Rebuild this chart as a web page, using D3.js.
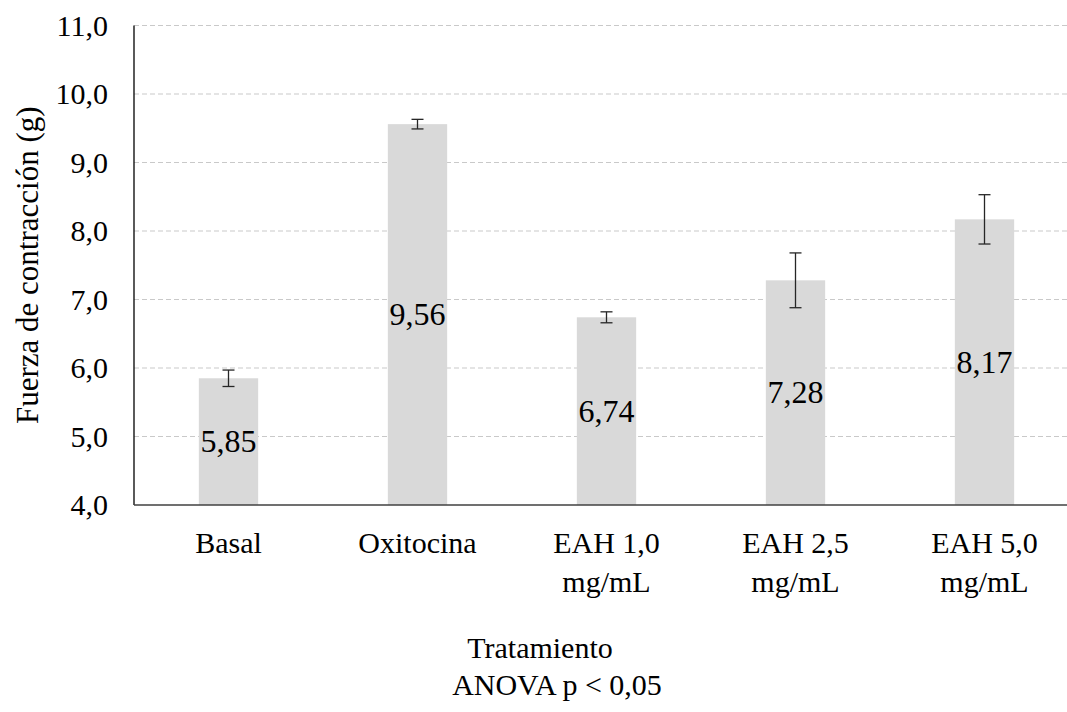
<!DOCTYPE html>
<html>
<head>
<meta charset="utf-8">
<script src="https://cdn.jsdelivr.net/npm/d3@7"></script>
</head>
<body style="margin:0">
<svg id="chart" width="1067" height="712"></svg>
<script>
const categories = [["Basal"], ["Oxitocina"], ["EAH 1,0", "mg/mL"], ["EAH 2,5", "mg/mL"], ["EAH 5,0", "mg/mL"]];
const values = [5.85, 9.56, 6.74, 7.28, 8.17];
const errors = [0.12, 0.07, 0.08, 0.40, 0.36];
const valueLabels = ["5,85", "9,56", "6,74", "7,28", "8,17"];
const yTicks = [4, 5, 6, 7, 8, 9, 10, 11];
const yTickLabels = ["4,0", "5,0", "6,0", "7,0", "8,0", "9,0", "10,0", "11,0"];
const yTitle = "Fuerza de contracción (g)";
const xTitle = "Tratamiento";
const note = "ANOVA p < 0,05";

(function () {
const F = "Liberation Serif";
const svg = d3.select("#chart");
const pL = 134, pT = 25.5, pB = 505, pR = 1079;
const keys = categories.map((c, i) => i);

const x = d3.scaleBand().domain(keys).range([pL, pR]).padding(0);
const y = d3.scaleLinear().domain([4, 11]).range([pB, pT]);
const barW = x.bandwidth() * 0.314;

function txt(px, py, s, size, anchor) {
  return svg.append("text").attr("x", px).attr("y", py)
    .attr("text-anchor", anchor || "middle")
    .attr("font-family", F).attr("font-size", size)
    .style("font-family", F).text(s);
}

// gridlines
yTicks.filter(t => t > 4).forEach(t => {
  svg.append("line").attr("x1", pL).attr("x2", 1067)
    .attr("y1", y(t)).attr("y2", y(t))
    .attr("stroke", "#c9c9c9").attr("stroke-width", 1)
    .attr("stroke-dasharray", "5,3");
});

// bars
values.forEach((v, i) => {
  svg.append("rect")
    .attr("x", x(i) + x.bandwidth() / 2 - barW / 2)
    .attr("width", barW)
    .attr("y", y(v))
    .attr("height", y(4) - y(v))
    .attr("fill", "#d9d9d9");
});

// error bars
values.forEach((v, i) => {
  const cx = x(i) + x.bandwidth() / 2;
  const y1 = y(v + errors[i]), y2 = y(v - errors[i]);
  [[cx, cx, y1, y2], [cx - 6, cx + 6, y1, y1], [cx - 6, cx + 6, y2, y2]].forEach(l => {
    svg.append("line").attr("x1", l[0]).attr("x2", l[1]).attr("y1", l[2]).attr("y2", l[3])
      .attr("stroke", "#262626").attr("stroke-width", 1.3);
  });
});

// value labels
values.forEach((v, i) => txt(x(i) + x.bandwidth() / 2, (y(4) + y(v)) / 2 + 10.5, valueLabels[i], 32));

// axes lines
svg.append("line").attr("x1", pL).attr("x2", pL).attr("y1", pT).attr("y2", pB)
  .attr("stroke", "#000").attr("stroke-width", 1.3);
svg.append("line").attr("x1", pL).attr("x2", 1067).attr("y1", pB).attr("y2", pB)
  .attr("stroke", "#404040").attr("stroke-width", 1.3);

// y tick labels
yTicks.forEach((t, i) => txt(108, y(t) + 10, yTickLabels[i], 30, "end"));

// category labels
categories.forEach((lines, i) => {
  lines.forEach((t, j) => txt(x(i) + x.bandwidth() / 2, 553 + j * 39, t, 30));
});

// y title
txt(0, 0, yTitle, 31).attr("x", null).attr("y", null)
  .attr("transform", `translate(38, ${(pT + pB) / 2}) rotate(-90)`);

// x title and note
txt(540, 658, xTitle, 30);
txt(557, 695, note, 30);
})();
</script>
</body>
</html>
